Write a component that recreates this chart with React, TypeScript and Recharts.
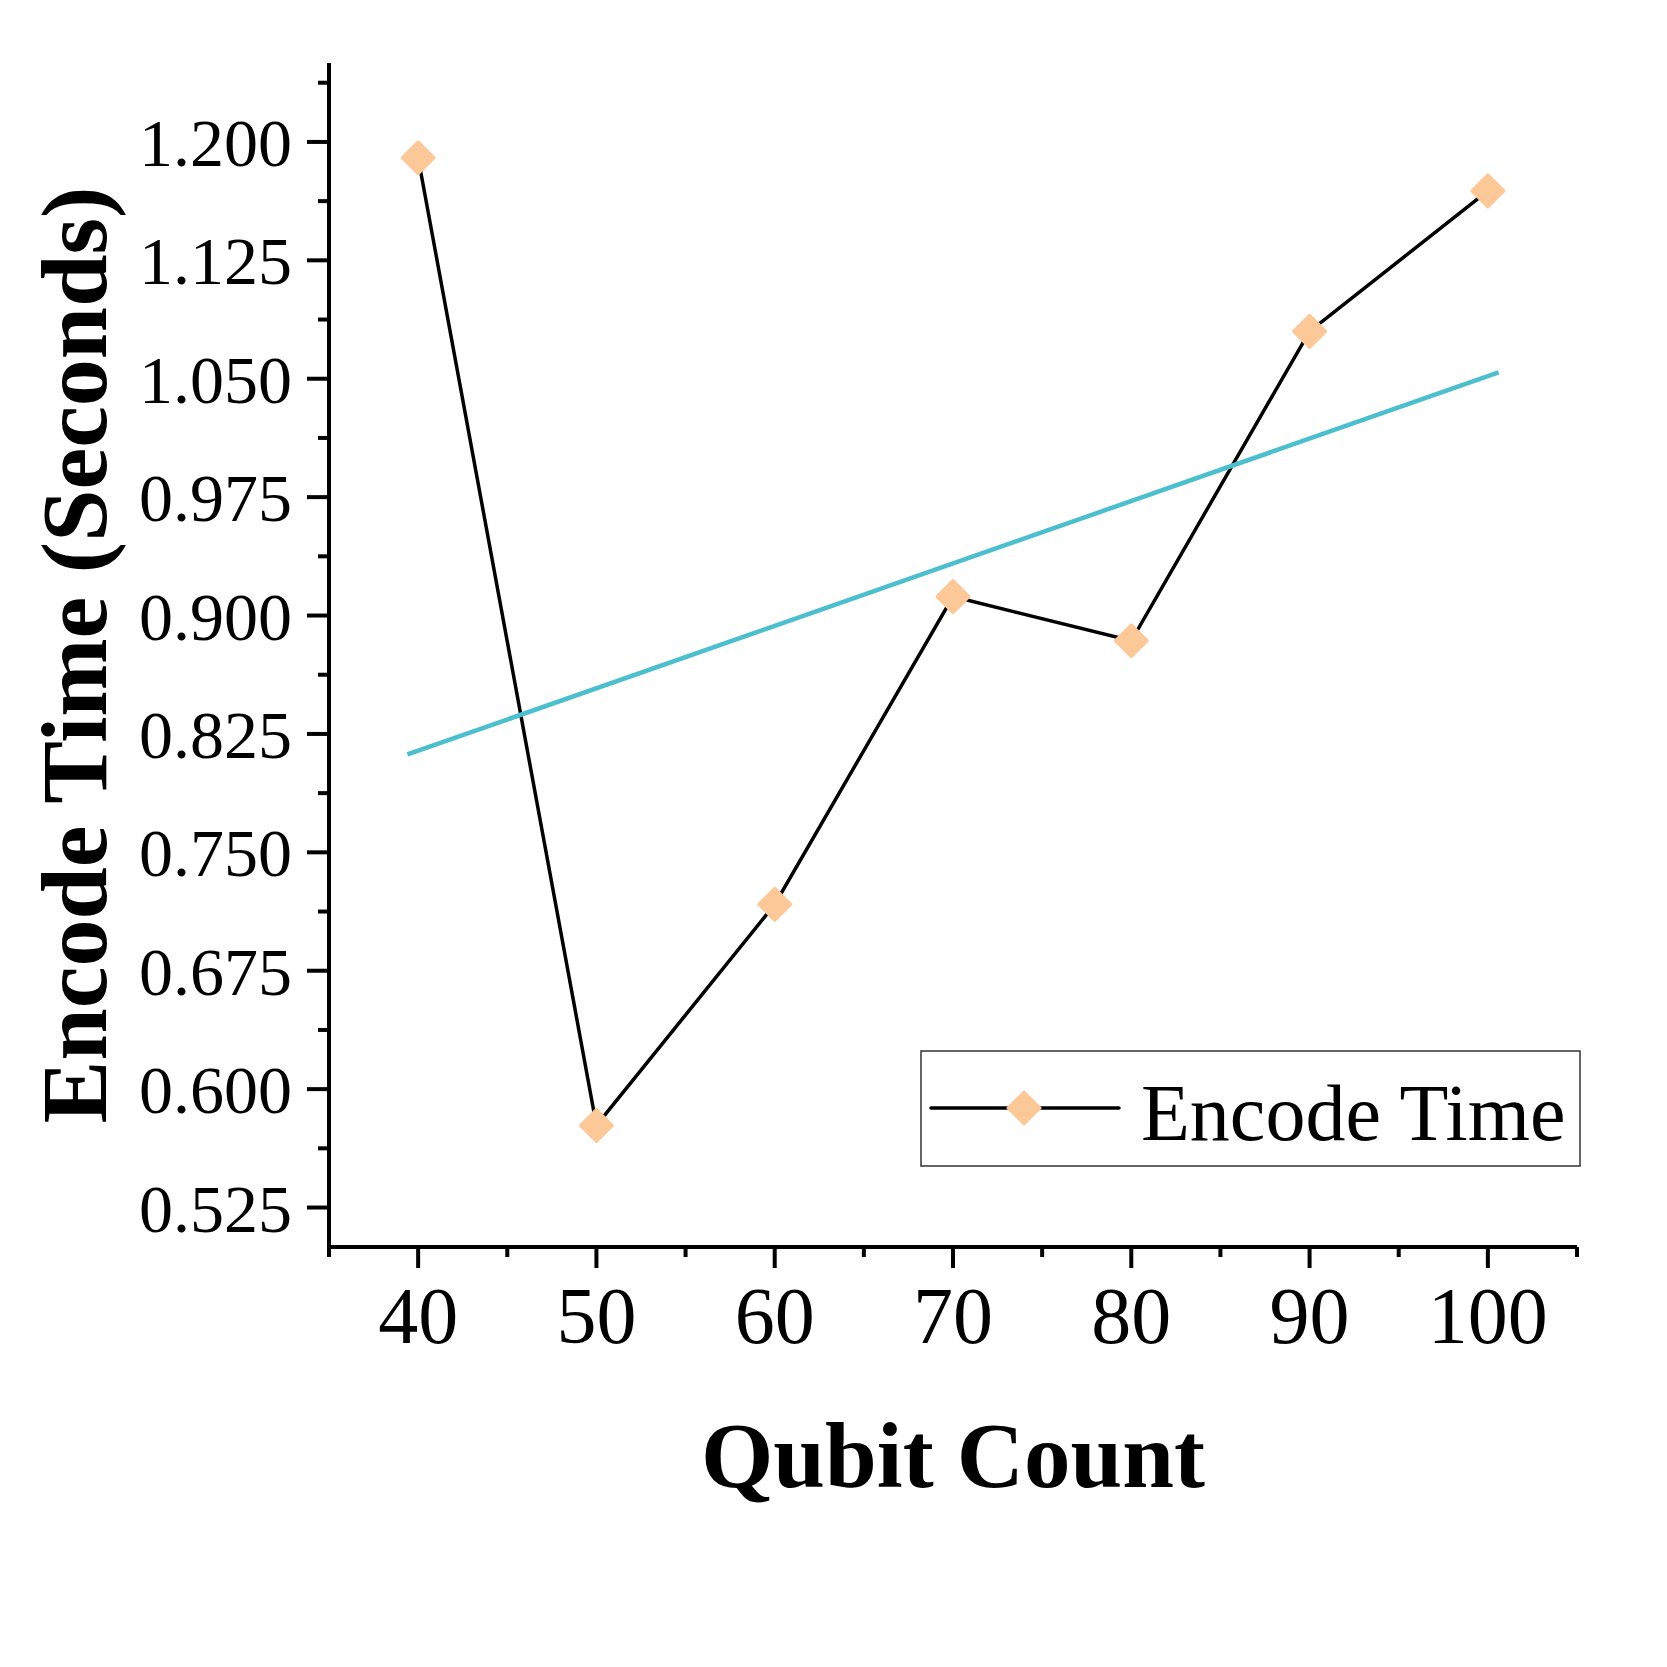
import { Label, Legend, Line, LineChart, XAxis, YAxis } from "recharts";

const qubitCounts = [40, 50, 60, 70, 80, 90, 100];
const encodeTimes = [1.19, 0.577, 0.717, 0.912, 0.884, 1.08, 1.169];

// linear fit line as drawn in the figure (endpoints)
const fitCounts = [39.4, 100.6];
const fitTimes = [0.812, 1.054];

const xMajorTicks = [40, 50, 60, 70, 80, 90, 100];
const xMinorTicks = [35, 45, 55, 65, 75, 85, 95, 105];
const yMajorTicks = [0.525, 0.6, 0.675, 0.75, 0.825, 0.9, 0.975, 1.05, 1.125, 1.2];
const yMinorTicks = [0.5625, 0.6375, 0.7125, 0.7875, 0.8625, 0.9375, 1.0125, 1.0875, 1.1625, 1.2375];

const data = qubitCounts.map((q, i) => ({ qubits: q, time: encodeTimes[i] }));
const fitData = fitCounts.map((q, i) => ({ qubits: q, fit: fitTimes[i] }));

const FONT = '"Liberation Serif", "Times New Roman", serif';
const PEACH = "#FDC898";
const TEAL = "#4CBFCF";
const AXIS_W = 4;

function Diamond(props: any) {
  const { cx, cy } = props;
  if (cx == null || cy == null) return null;
  const r = 16;
  return (
    <path
      key={`dia-${cx}-${cy}`}
      d={`M${cx},${cy - r}L${cx + r},${cy}L${cx},${cy + r}L${cx - r},${cy}Z`}
      fill={PEACH}
      stroke={PEACH}
      strokeWidth={3}
      strokeLinejoin="round"
    />
  );
}

function XTick(props: any) {
  const { x, y, payload } = props;
  const major = xMajorTicks.includes(payload.value);
  return (
    <g>
      <line x1={x} x2={x} y1={y} y2={y + (major ? 21 : 10)} stroke="#000" strokeWidth={AXIS_W} />
      {major && (
        <text x={x} y={y + 96} textAnchor="middle" fontSize={80} fontFamily={FONT} fill="#000">
          {payload.value}
        </text>
      )}
    </g>
  );
}

function YTick(props: any) {
  const { x, y, payload } = props;
  const major = yMajorTicks.includes(payload.value);
  return (
    <g>
      <line x1={x} x2={x - (major ? 22 : 11)} y1={y} y2={y} stroke="#000" strokeWidth={AXIS_W} />
      {major && (
        <text x={x - 37} y={y + 24} textAnchor="end" fontSize={68} fontFamily={FONT} fill="#000">
          {payload.value.toFixed(3)}
        </text>
      )}
    </g>
  );
}

function LegendBox() {
  return (
    <svg width={661} height={117} style={{ display: "block" }}>
      <rect x={1} y={1} width={659} height={115} fill="#fff" stroke="#333" strokeWidth={1.5} />
      <line x1={11} x2={199} y1={58} y2={58} stroke="#000" strokeWidth={3.5} strokeLinecap="round" />
      <Diamond cx={104} cy={58} />
      <text x={221} y={90} fontSize={80} fontFamily={FONT} fill="#000">
        Encode Time
      </text>
    </svg>
  );
}

export default function App() {
  return (
    <div style={{ position: "absolute", left: 0, top: 0, background: "#fff" }}>
      <LineChart width={1667} height={1667} data={data} margin={{ top: 63, right: 90, bottom: 120, left: 0 }}>
        <XAxis
          dataKey="qubits"
          type="number"
          domain={[35, 105]}
          ticks={[...xMinorTicks, ...xMajorTicks].sort((a, b) => a - b)}
          interval={0}
          height={300}
          tickLine={false}
          tickSize={0}
          tickMargin={0}
          tick={<XTick />}
          axisLine={{ stroke: "#000", strokeWidth: AXIS_W }}
        >
          <Label
            content={(p: any) => {
              const vb = p.viewBox;
              return (
                <text
                  x={vb.x + vb.width / 2}
                  y={vb.y + 240}
                  textAnchor="middle"
                  fontSize={93}
                  fontWeight="bold"
                  fontFamily={FONT}
                  fill="#000"
                >
                  Qubit Count
                </text>
              );
            }}
          />
        </XAxis>
        <YAxis
          type="number"
          domain={[0.5, 1.25]}
          ticks={[...yMajorTicks, ...yMinorTicks].sort((a, b) => a - b)}
          interval={0}
          width={329}
          tickLine={false}
          tickSize={0}
          tickMargin={0}
          tick={<YTick />}
          axisLine={{ stroke: "#000", strokeWidth: AXIS_W }}
        >
          <Label
            content={(p: any) => {
              const vb = p.viewBox;
              const cy = vb.y + vb.height / 2;
              return (
                <text
                  x={106}
                  y={cy}
                  transform={`rotate(-90 106 ${cy})`}
                  textAnchor="middle"
                  fontSize={94}
                  fontWeight="bold"
                  fontFamily={FONT}
                  fill="#000"
                >
                  Encode Time (Seconds)
                </text>
              );
            }}
          />
        </YAxis>
        <Legend
          layout="horizontal"
          verticalAlign="middle"
          align="center"
          content={() => <LegendBox />}
          wrapperStyle={{ left: 920, top: 1050, width: 661, height: 117 }}
        />
        <Line
          dataKey="time"
          name="Encode Time"
          type="linear"
          stroke="#000"
          strokeWidth={3.5}
          dot={<Diamond />}
          activeDot={false}
          isAnimationActive={false}
        />
        <Line
          data={fitData}
          dataKey="fit"
          type="linear"
          stroke={TEAL}
          strokeWidth={4.5}
          dot={false}
          activeDot={false}
          legendType="none"
          isAnimationActive={false}
        />
      </LineChart>
    </div>
  );
}
